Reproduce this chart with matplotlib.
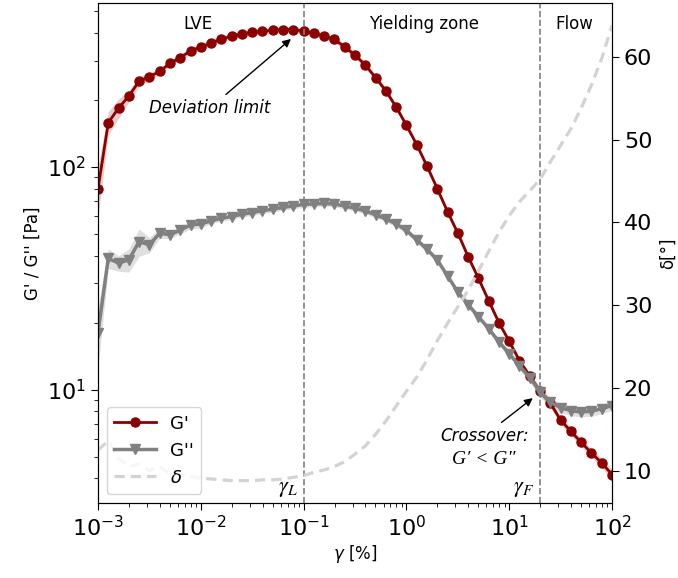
import numpy as np
import matplotlib.pyplot as plt

# strain amplitude sweep, 10 points per decade
strain = np.logspace(-3, 2, 51)

g_storage = [79.6, 158, 184, 208, 243, 254, 269, 292, 310, 332,
             346, 360, 376, 386, 396, 402, 407, 411, 414, 414,
             408, 399, 386, 374, 346, 318, 287, 252, 220, 186,
             154, 126, 101, 80, 63, 50.5, 39.6, 31.7, 25.1, 20.0,
             16.5, 13.5, 11.5, 9.83, 8.7, 7.3, 6.5, 5.8, 5.2, 4.69, 4.16]

g_loss = [18, 38.9, 37, 38.3, 46.2, 44.7, 50.5, 49.6, 52.1, 54.9,
          55.5, 57.3, 58.9, 59.9, 61.4, 62.4, 63.7, 64.6, 65.9, 66.8,
          68, 68.2, 68.6, 68.2, 66.8, 65.3, 63.5, 61, 58.5, 55.5,
          51.9, 47.1, 42.7, 38.3, 32.4, 27.5, 24.1, 21.3, 18.8, 16.4,
          14.5, 12.8, 11.3, 9.8, 8.79, 8.3, 8.05, 7.94, 8.0, 8.22, 8.48]

# relative spread (std / mean) of the repeats
g_storage_err = [0.25, 0.12, 0.10, 0.06, 0.05, 0.04, 0.03, 0.03, 0.03, 0.03,
                 0.03, 0.03, 0.03, 0.03, 0.03, 0.03, 0.03, 0.03, 0.03, 0.03,
                 0.03, 0.03, 0.03, 0.03, 0.03, 0.03, 0.03, 0.03, 0.03, 0.03,
                 0.03, 0.03, 0.03, 0.03, 0.03, 0.03, 0.03, 0.03, 0.03, 0.03,
                 0.03, 0.03, 0.03, 0.04, 0.04, 0.04, 0.04, 0.04, 0.04, 0.05, 0.05]

g_loss_err = [0.30, 0.10, 0.08, 0.12, 0.14, 0.08, 0.05, 0.04, 0.04, 0.04,
              0.04, 0.03, 0.03, 0.03, 0.03, 0.03, 0.03, 0.03, 0.03, 0.03,
              0.03, 0.03, 0.03, 0.03, 0.03, 0.03, 0.03, 0.03, 0.03, 0.03,
              0.03, 0.03, 0.03, 0.03, 0.03, 0.03, 0.03, 0.03, 0.03, 0.03,
              0.03, 0.04, 0.04, 0.05, 0.05, 0.05, 0.05, 0.05, 0.05, 0.05, 0.05]

delta = [12.5, 13.6, 11.5, 10.5, 10.8, 10.0, 10.5, 9.6, 9.5, 9.3,
         9.1, 9.0, 8.9, 8.8, 8.8, 8.8, 8.9, 8.9, 9.0, 9.2,
         9.4, 9.8, 10.1, 10.5, 11.1, 12.0, 13.0, 14.4, 16.0, 17.8,
         19.6, 21.3, 23.4, 25.7, 27.8, 29.8, 31.8, 34.1, 36.5, 38.8,
         40.8, 42.5, 43.8, 45.2, 47.3, 49.3, 51.3, 53.8, 56.6, 59.8, 63.8]

gamma_L = 0.1
gamma_F = 20

fig = plt.figure(figsize=(6.78, 5.78), dpi=100)
ax = fig.add_axes([0.1445, 0.1298, 0.7582, 0.865])
ax2 = ax.twinx()

gs = np.array(g_storage)
gl = np.array(g_loss)
es = np.array(g_storage_err)
el = np.array(g_loss_err)

ax.fill_between(strain, gs * (1 - es), gs * (1 + es), color='#8B0000', alpha=0.2, lw=0)
ax.fill_between(strain, gl * (1 - el), gl * (1 + el), color='gray', alpha=0.25, lw=0)
l1, = ax.plot(strain, g_storage, '-o', color='#8B0000', lw=2, ms=6.5, label="G'")
l2, = ax.plot(strain, g_loss, '-v', color='gray', lw=2.5, ms=6.5, label="G''")
l3, = ax2.plot(strain, delta, '--', color='#d3d3d3', lw=2.3, dashes=(3.2, 1.9), label=r'$\delta$')

ax.axvline(gamma_L, color='gray', ls='--', lw=1.2)
ax.axvline(gamma_F, color='gray', ls='--', lw=1.2)

ax.set_xscale('log')
ax.set_yscale('log')
ax.set_xlim(1e-3, 1e2)
ax.set_ylim(3.1, 545)
ax2.set_ylim(6.1, 66.5)

ax.tick_params(labelsize=16, length=5)
ax.tick_params(which='minor', length=3)
ax2.tick_params(labelsize=16, length=5)
ax.set_xlabel(r'$\gamma$ [%]', fontsize=12, labelpad=2)
ax.set_ylabel("G' / G'' [Pa]", fontsize=12)
ax2.set_ylabel('δ[°]', fontsize=12, labelpad=5)

# zone labels
ax.text(0.0094, 440, 'LVE', ha='center', va='center', fontsize=12)
ax.text(1.48, 440, 'Yielding zone', ha='center', va='center', fontsize=12)
ax.text(43, 440, 'Flow', ha='center', va='center', fontsize=12)

ax.annotate('Deviation limit', xy=(0.079, 383), xytext=(0.0123, 184),
            ha='center', va='center', fontsize=12, style='italic',
            arrowprops=dict(arrowstyle='-|>', color='black', lw=1))
ax.annotate("Crossover:", xy=(17.8, 9.33), xytext=(5.7, 6.2),
            ha='center', va='center', fontsize=12, style='italic',
            arrowprops=dict(arrowstyle='-|>', color='black', lw=1))
ax.text(5.7, 4.85, 'G\u2032 < G"', ha='center', va='center', fontsize=14,
        family='Liberation Serif', style='italic')
ax.text(0.088, 3.6, r'$\gamma_L$', ha='right', va='center', fontsize=16,
        math_fontfamily='stix')
ax.text(17.5, 3.6, r'$\gamma_F$', ha='right', va='center', fontsize=16,
        math_fontfamily='stix')

ax2.legend([l1, l2, l3], [l1.get_label(), l2.get_label(), l3.get_label()],
           loc='lower left', fontsize=13, handlelength=2.3)

fig.savefig('out.png', dpi=100)
